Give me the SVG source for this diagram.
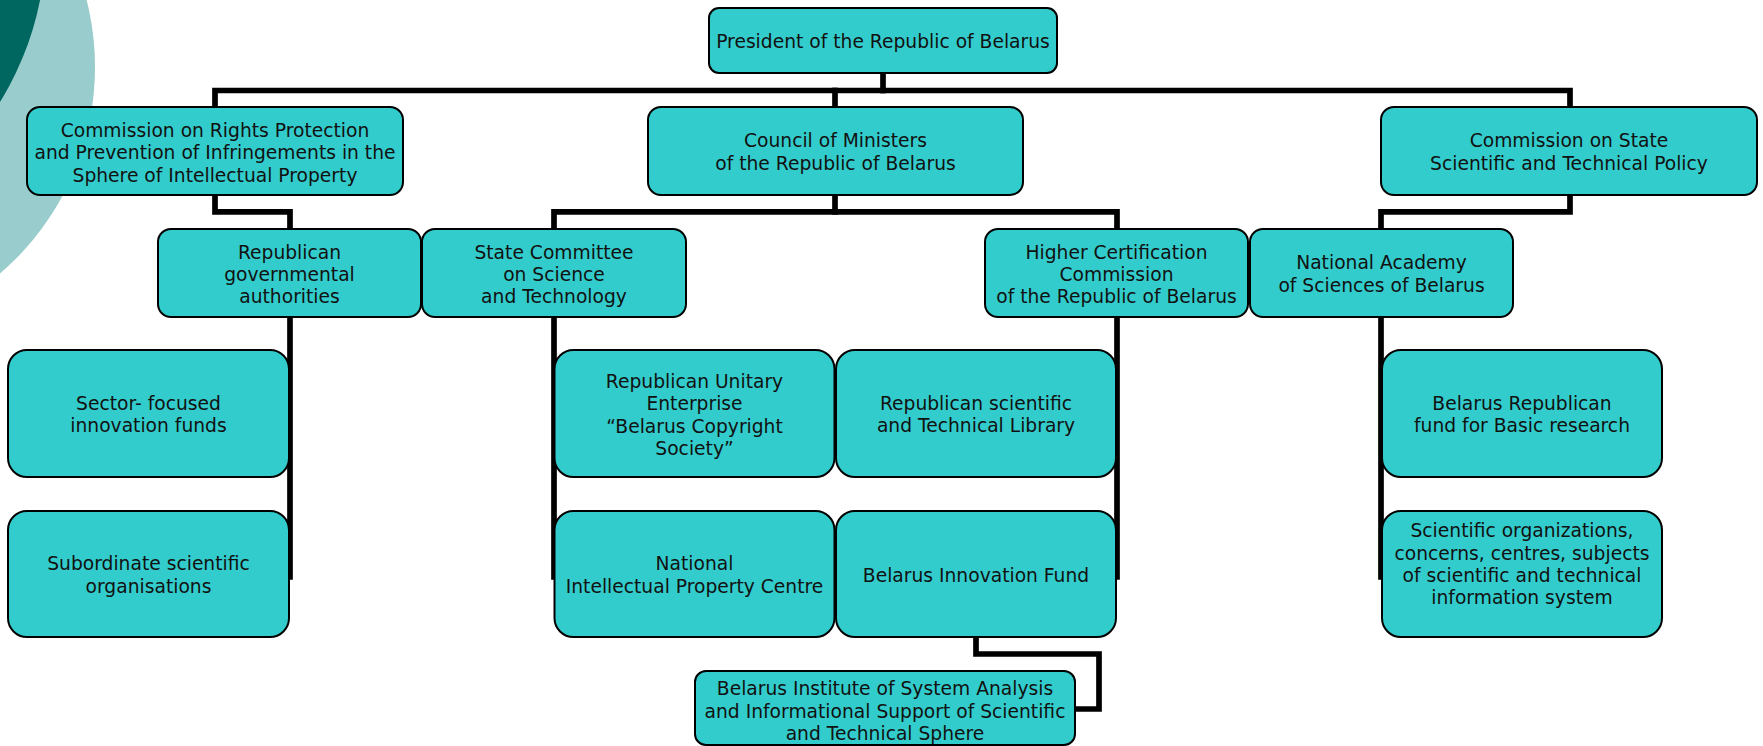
<svg xmlns="http://www.w3.org/2000/svg" width="1763" height="746" viewBox="0 0 1763 746">
<style>
.box{fill:#33CCCC;stroke:#000;stroke-width:2}
.t{font-family:'DejaVu Sans',Verdana,sans-serif;font-size:18.7px;fill:#111;text-anchor:middle}
.c{fill:none;stroke:#000;stroke-width:5.7;stroke-linejoin:miter;stroke-linecap:square}
</style>
<rect width="1763" height="746" fill="#fff"/>
<g id="background">
<circle cx="-177" cy="67" r="272" fill="#99cccc"/>
<circle cx="-262" cy="-60" r="308" fill="#006660"/>
</g>
<g id="connectors">
<path class="c" d="M883,73 V90.5"/>
<path class="c" d="M215,107 V90.5 H1570 V107"/>
<path class="c" d="M835,90.5 V107"/>
<path class="c" d="M215,195 V211.8 H290 V229"/>
<path class="c" d="M290,317 V577"/>
<path class="c" d="M835,195 V211.8"/>
<path class="c" d="M554,229 V211.8 H1117 V229"/>
<path class="c" d="M554,317 V577"/>
<path class="c" d="M1117,317 V577"/>
<path class="c" d="M1570,195 V211.8 H1381 V229"/>
<path class="c" d="M1381,317 V577"/>
<path class="c" d="M976,637 V654 H1099 V709 H1075"/>
</g>
<g id="president"><rect class="box" x="709" y="8" width="348" height="65" rx="10"/>
<text class="t" x="883" y="48">President of the Republic of Belarus</text></g>
<g id="commission-rights"><rect class="box" x="27" y="107" width="376" height="88" rx="13"/>
<text class="t" x="215" y="136.5">Commission on Rights Protection</text>
<text class="t" x="215" y="159">and Prevention of Infringements in the</text>
<text class="t" x="215" y="181.5">Sphere of Intellectual Property</text></g>
<g id="council"><rect class="box" x="648" y="107" width="375" height="88" rx="13"/>
<text class="t" x="835.5" y="147">Council of Ministers</text>
<text class="t" x="835.5" y="170">of the Republic of Belarus</text></g>
<g id="commission-state"><rect class="box" x="1381" y="107" width="376" height="88" rx="13"/>
<text class="t" x="1569" y="147">Commission on State</text>
<text class="t" x="1569" y="170">Scientific and Technical Policy</text></g>
<g id="republican-gov"><rect class="box" x="158" y="229" width="263" height="88" rx="13"/>
<text class="t" x="289.5" y="258.5">Republican</text>
<text class="t" x="289.5" y="281">governmental</text>
<text class="t" x="289.5" y="303">authorities</text></g>
<g id="state-committee"><rect class="box" x="422" y="229" width="264" height="88" rx="13"/>
<text class="t" x="554" y="258.5">State Committee</text>
<text class="t" x="554" y="281">on Science</text>
<text class="t" x="554" y="303">and Technology</text></g>
<g id="higher-cert"><rect class="box" x="985" y="229" width="263" height="88" rx="13"/>
<text class="t" x="1116.5" y="258.5">Higher Certification</text>
<text class="t" x="1116.5" y="281">Commission</text>
<text class="t" x="1116.5" y="303">of the Republic of Belarus</text></g>
<g id="national-academy"><rect class="box" x="1250" y="229" width="263" height="88" rx="13"/>
<text class="t" x="1381.5" y="269">National Academy</text>
<text class="t" x="1381.5" y="291.5">of Sciences of Belarus</text></g>
<g id="sector-funds"><rect class="box" x="8" y="350" width="281" height="127" rx="19"/>
<text class="t" x="148.5" y="410">Sector- focused</text>
<text class="t" x="148.5" y="432">innovation funds</text></g>
<g id="subordinate"><rect class="box" x="8" y="511" width="281" height="126" rx="19"/>
<text class="t" x="148.5" y="570">Subordinate scientific</text>
<text class="t" x="148.5" y="593">organisations</text></g>
<g id="copyright-society"><rect class="box" x="554.5" y="350" width="280" height="127" rx="19"/>
<text class="t" x="694.5" y="388">Republican Unitary</text>
<text class="t" x="694.5" y="410">Enterprise</text>
<text class="t" x="694.5" y="432.5">“Belarus Copyright</text>
<text class="t" x="694.5" y="455">Society”</text></g>
<g id="library"><rect class="box" x="836" y="350" width="280" height="127" rx="19"/>
<text class="t" x="976" y="410">Republican scientific</text>
<text class="t" x="976" y="432">and Technical Library</text></g>
<g id="ip-centre"><rect class="box" x="554.5" y="511" width="280" height="126" rx="19"/>
<text class="t" x="694.5" y="570">National</text>
<text class="t" x="694.5" y="593">Intellectual Property Centre</text></g>
<g id="innovation-fund"><rect class="box" x="836" y="511" width="280" height="126" rx="19"/>
<text class="t" x="976" y="582">Belarus Innovation Fund</text></g>
<g id="basic-research-fund"><rect class="box" x="1382" y="350" width="280" height="127" rx="19"/>
<text class="t" x="1522" y="410">Belarus Republican</text>
<text class="t" x="1522" y="432">fund for Basic research</text></g>
<g id="scientific-orgs"><rect class="box" x="1382" y="511" width="280" height="126" rx="19"/>
<text class="t" x="1522" y="537">Scientific organizations,</text>
<text class="t" x="1522" y="559.5">concerns, centres, subjects</text>
<text class="t" x="1522" y="581.5">of scientific and technical</text>
<text class="t" x="1522" y="603.5">information system</text></g>
<g id="institute"><rect class="box" x="695" y="671" width="380" height="74" rx="11"/>
<text class="t" x="885" y="694.5">Belarus Institute of System Analysis</text>
<text class="t" x="885" y="717.5">and Informational Support of Scientific</text>
<text class="t" x="885" y="739.5">and Technical Sphere</text></g>
</svg>
